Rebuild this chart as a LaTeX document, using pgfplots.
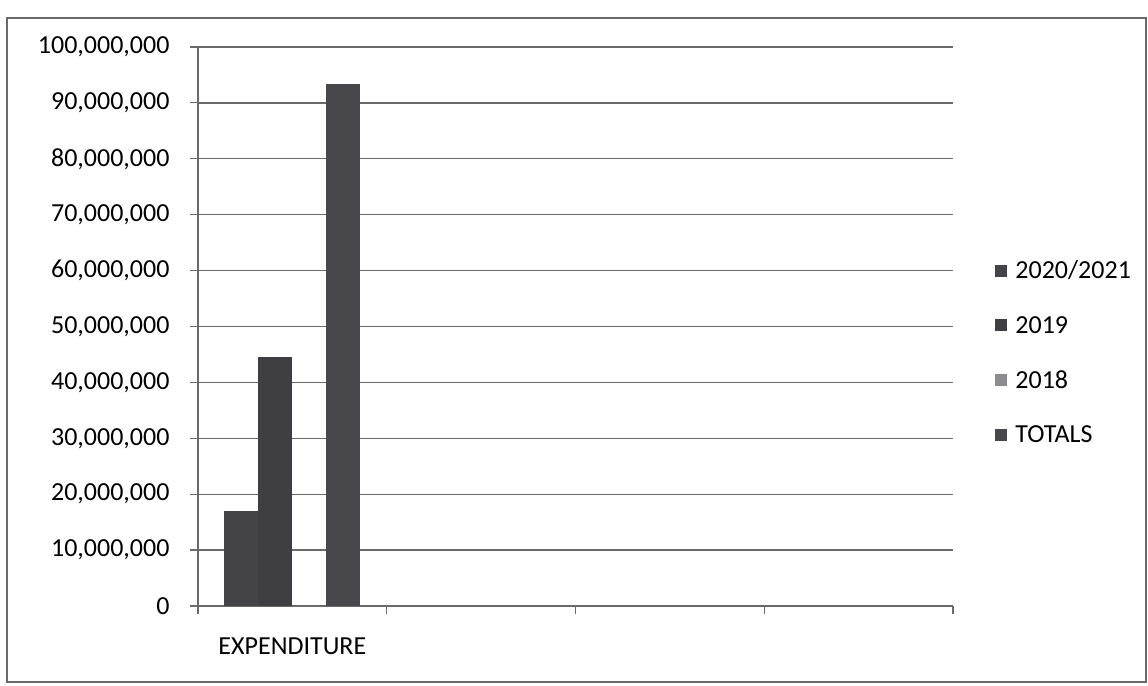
\documentclass[border=0pt]{standalone}
\usepackage{pgfplots}
\pgfplotsset{compat=1.18}
\usepackage{fontspec}
\setmainfont{Carlito}
\definecolor{barA}{HTML}{434348}
\definecolor{barB}{HTML}{3E3E43}
\definecolor{barC}{HTML}{8C8C90}
\definecolor{barD}{HTML}{47474C}
\definecolor{gridc}{HTML}{6A6A6A}
\begin{document}
\begin{tikzpicture}
\useasboundingbox (0,0) rectangle (1148bp,686bp);
\draw[gridc, line width=1.2bp] (7bp,4bp) rectangle (1146bp,668bp);
\begin{axis}[
  at={(198bp,80bp)}, anchor=south west,
  scale only axis, width=755bp, height=559bp,
  xmin=-0.5, xmax=3.5, ymin=0, ymax=100000000,
  axis lines*=left,
  axis line style={gridc, line width=1.3bp},
  ytick={0,10000000,...,100000000},
  scaled y ticks=false,
  yticklabel style={/pgf/number format/fixed, /pgf/number format/precision=0, /pgf/number format/1000 sep={,}, /pgf/number format/assume math mode=true, xshift=-17bp},
  tick align=outside,
  major tick length=8bp,
  tick style={gridc, line width=1.2bp},
  ymajorgrids,
  major grid style={gridc, line width=1.3bp},
  xtick={-0.5,0.5,1.5,2.5,3.5},
  xticklabels={},
  extra x ticks={0},
  extra x tick labels={EXPENDITURE},
  extra x tick style={major tick length=0pt, xticklabel style={yshift=-28bp}},
  every tick label/.append style={font=\fontsize{26bp}{31bp}\selectfont, text=black},
  ybar, bar width=0.18,
  legend cell align=left,
  legend style={draw=none, fill=none, at={(1.052,0.4535)}, anchor=west,
    font=\fontsize{26bp}{31bp}\selectfont, row sep=32bp,
    /tikz/every odd column/.append style={column sep=6bp}},
  legend image code/.code={\fill[#1,draw=none] (0bp,-6bp) rectangle (12bp,6bp);},
]
\addplot[fill=barA, draw=none, bar shift=-0.27] coordinates {(0,17000000)};
\addlegendentry{2020/2021}
\addplot[fill=barB, draw=none, bar shift=-0.09] coordinates {(0,44500000)};
\addlegendentry{2019}
\addplot[fill=barC, draw=none, bar shift=0.09] coordinates {(0,0)};
\addlegendentry{2018}
\addplot[fill=barD, draw=none, bar shift=0.27] coordinates {(0,93300000)};
\addlegendentry{TOTALS}
\end{axis}
\end{tikzpicture}
\end{document}
